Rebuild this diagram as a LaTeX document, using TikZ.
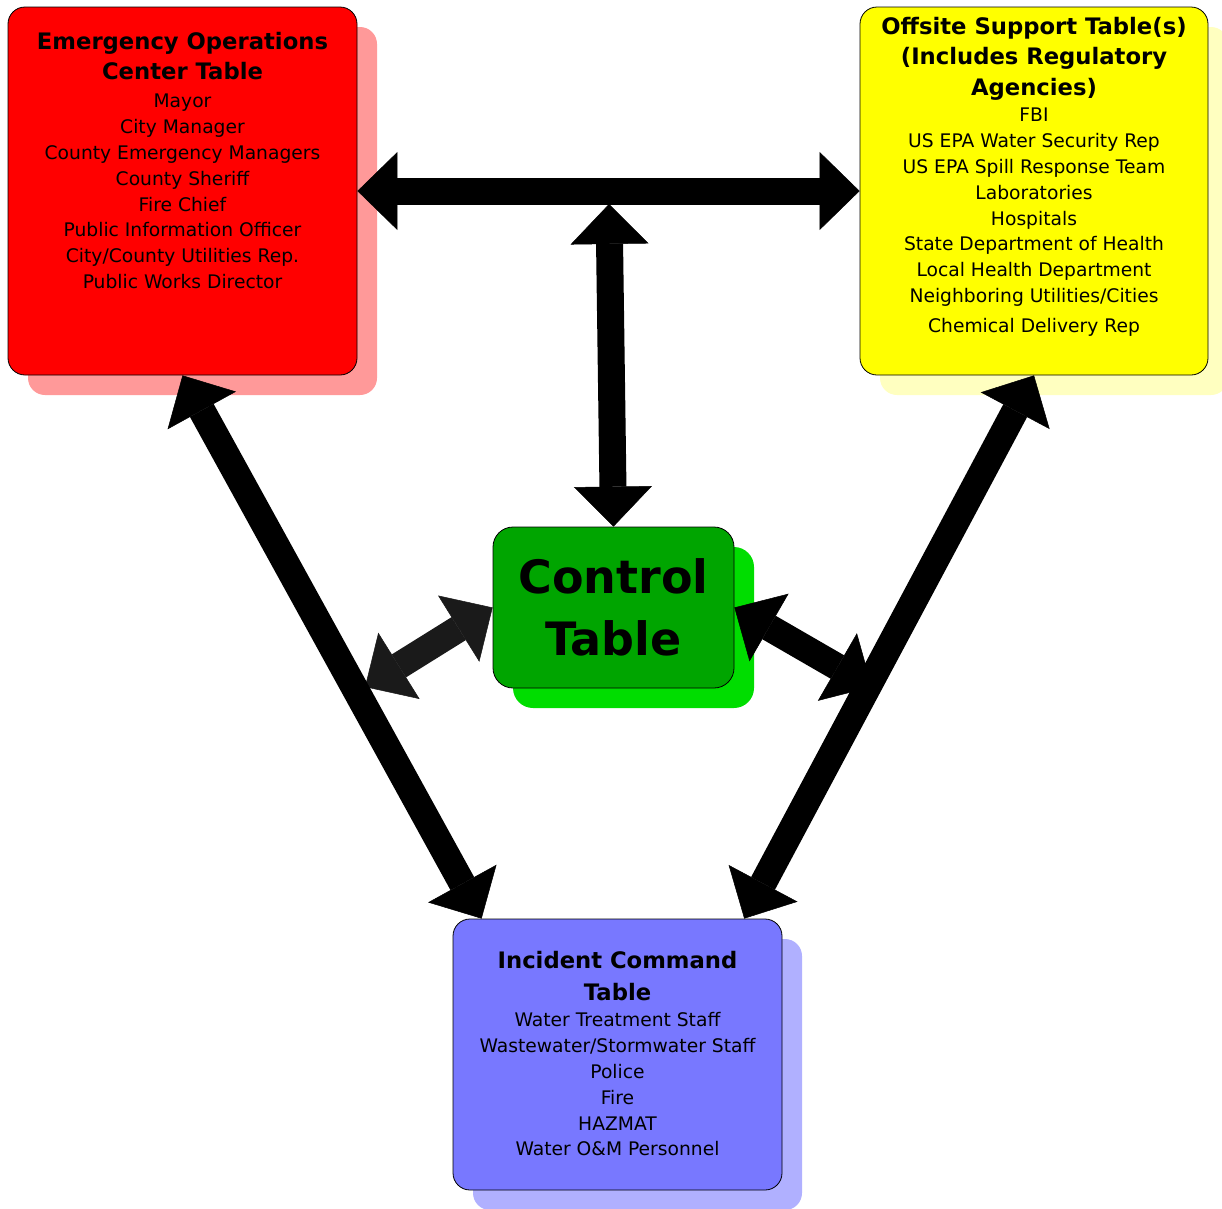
\documentclass[tikz,border=0pt]{standalone}
\usepackage{fontspec}
\setmainfont{DejaVu Sans}
\usetikzlibrary{positioning,shadows,arrows.meta}

\definecolor{eocred}{HTML}{FF0000}
\definecolor{eocshade}{HTML}{FF9999}
\definecolor{offyellow}{HTML}{FFFF00}
\definecolor{offshade}{HTML}{FFFFC0}
\definecolor{ctrlgreen}{HTML}{00A500}
\definecolor{ctrlshade}{HTML}{00DD00}
\definecolor{icblue}{HTML}{7878FF}
\definecolor{icshade}{HTML}{B0B0FF}
\definecolor{arrowgray}{HTML}{1A1A1A}

\begin{document}
\begin{tikzpicture}[x=1pt,y=-1pt,
  tablebox/.style={draw=black,line width=0.8pt,rounded corners=17pt,inner sep=0pt},
  heading/.style={inner sep=0pt,align=center,font=\bfseries\fontsize{22.7}{30.5}\selectfont},
  members/.style={inner sep=0pt,align=center,font=\fontsize{18.7}{25.8}\selectfont},
  link/.style={line width=27pt,{Triangle[length=40pt,width=78pt,line width=0.5pt]}-{Triangle[length=40pt,width=78pt,line width=0.5pt]}}]
\useasboundingbox (0,0) rectangle (1222,1208);
\node[tablebox,fill=eocred,minimum width=349pt,minimum height=368pt,
  drop shadow={shadow xshift=20pt,shadow yshift=-20pt,fill=eocshade,opacity=1}] (eoc) at (182.5,191) {};
\node[tablebox,fill=offyellow,minimum width=348pt,minimum height=368pt,
  drop shadow={shadow xshift=20pt,shadow yshift=-20pt,fill=offshade,opacity=1}] (osup) at (1034,191) {};
\node[tablebox,fill=ctrlgreen,minimum width=241pt,minimum height=161pt,rounded corners=20pt,
  drop shadow={shadow xshift=20pt,shadow yshift=-20pt,fill=ctrlshade,opacity=1},
  align=center,font=\bfseries\fontsize{46}{62}\selectfont] (control) at (613.5,607.5) {Control\\Table};
\node[tablebox,fill=icblue,minimum width=329pt,minimum height=271pt,
  drop shadow={shadow xshift=20pt,shadow yshift=-20pt,fill=icshade,opacity=1}] (icmd) at (617.5,1054.5) {};

\node[heading,below=25pt of eoc.north] (eoctitle) {Emergency Operations\\Center Table};
\node[members,below=14pt of eoctitle] (eoclist) {Mayor\\City Manager\\County Emergency Managers\\County Sheriff\\Fire Chief\\Public Information Officer\\City/County Utilities Rep.\\Public Works Director};
\node[heading,below=10pt of osup.north] (osuptitle) {Offsite Support Table(s)\\(Includes Regulatory\\Agencies)};
\node[members,below=8pt of osuptitle] (osuplist) {FBI\\US EPA Water Security Rep\\US EPA Spill Response Team\\Laboratories\\Hospitals\\State Department of Health\\Local Health Department\\Neighboring Utilities/Cities\\[4pt]Chemical Delivery Rep};
\node[heading,font=\bfseries\fontsize{22.7}{32}\selectfont,below=32pt of icmd.north] (icmdtitle) {Incident Command\\Table};
\node[members,below=12pt of icmdtitle] (icmdlist) {Water Treatment Staff\\Wastewater/Stormwater Staff\\Police\\Fire\\HAZMAT\\Water O\&M Personnel};

\coordinate (ctop) at (609,204);
\coordinate (leftend) at (365,687);
\coordinate (rightend) at (872,687);
\draw[link] (eoc.east) -- (osup.west);
\draw[link] (ctop) -- (control.north);
\draw[link,arrowgray] (control.west) -- (leftend);
\draw[link] (control.east) -- (rightend);
\draw[link] (eoc.south) -- (icmd.135);
\draw[link] (osup.south) -- (icmd.47);
\end{tikzpicture}
\end{document}
